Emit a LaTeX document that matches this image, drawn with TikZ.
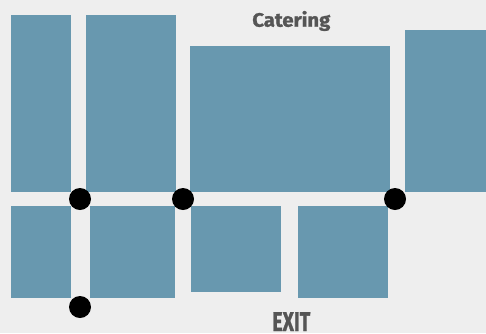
\documentclass[tikz,border=0pt]{standalone}
\usepackage{fontspec}
\setmainfont{Fira Sans}
\newfontfamily\lblfont{Fira Sans}[UprightFont=*-Bold,FakeBold=1.2]
\definecolor{bg}{HTML}{EEEEEE}
\definecolor{room}{HTML}{6898AF}
\definecolor{lbl}{HTML}{555555}
\begin{document}
\begin{tikzpicture}[x=1pt,y=-1pt,
  roombox/.style={fill=room,draw=none,inner sep=0pt,outer sep=0pt,anchor=north west},
  door/.style={circle,fill=black,draw=none,inner sep=0pt,minimum size=22pt},
  labeltext/.style={text=lbl,inner sep=0pt,outer sep=0pt,anchor=base west,font=\lblfont}]
\fill[bg] (0,0) rectangle (486,333);
\useasboundingbox (0,0) rectangle (486,333);
% top row
\node[roombox,minimum width=60pt,minimum height=177pt] (ra) at (11,15) {};
\node[roombox,minimum width=90pt,minimum height=177pt] (rb) at (86,15) {};
\node[roombox,minimum width=200pt,minimum height=146pt] (rc) at (190,46) {};
\node[roombox,minimum width=82pt,minimum height=162pt] (rd) at (405,30) {};
% bottom row
\node[roombox,minimum width=60pt,minimum height=92pt] (re) at (11,206) {};
\node[roombox,minimum width=85pt,minimum height=92pt] (rf) at (90,206) {};
\node[roombox,minimum width=90pt,minimum height=86pt] (rg) at (191,206) {};
\node[roombox,minimum width=90pt,minimum height=92pt] (rh) at (298,206) {};
% doors
\node[door] (d1) at (80,199) {};
\node[door] (d2) at (183,199) {};
\node[door] (d3) at (395,199) {};
\node[door] (d4) at (80,307) {};
% labels
\node[labeltext] (cat) at (252.3,26.7) {\resizebox{78pt}{15.7pt}{Catering}};
\node[labeltext] (exit) at (272.3,331) {\resizebox{38pt}{18.8pt}{EXIT}};
\end{tikzpicture}
\end{document}
